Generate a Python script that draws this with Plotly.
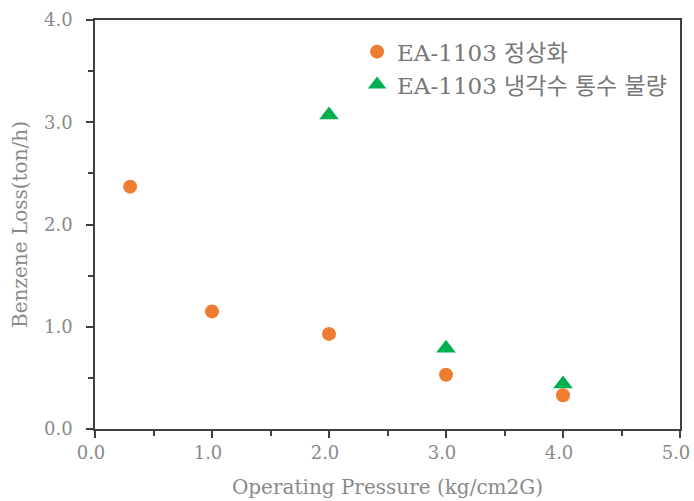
import plotly.graph_objects as go

x_normal = [0.3, 1.0, 2.0, 3.0, 4.0]
y_normal = [2.37, 1.15, 0.93, 0.53, 0.33]
x_bad = [2.0, 3.0, 4.0]
y_bad = [3.07, 0.79, 0.44]
name_normal = "EA-1103 정상화"
name_bad = "EA-1103 냉각수 통수 불량"
x_ticks = [0, 1, 2, 3, 4, 5]
y_ticks = [0, 1, 2, 3, 4]

FONT = "DejaVu Serif, Noto Sans CJK KR, serif"
GRAY = "#8a8a8a"

fig = go.Figure()
fig.add_trace(go.Scatter(x=x_normal, y=y_normal, mode="markers", name=name_normal,
                         marker=dict(symbol="circle", size=14, color="#ED7D31")))
fig.add_trace(go.Scatter(x=x_bad, y=y_bad, mode="markers", name=name_bad,
                         marker=dict(symbol="triangle-up", size=17, color="#00B050")))

axis_common = dict(showgrid=False, zeroline=False, showline=True, linecolor="#404040",
                   linewidth=1.5, mirror=True, ticks="outside", ticklen=7, tickwidth=1.5,
                   tickcolor="#404040", tickfont=dict(family=FONT, size=18, color=GRAY),
                   tickformat=".1f", automargin=False, ticklabeloverflow="allow")
fig.update_xaxes(range=[0, 5], tickvals=x_ticks, ticklabelshift=-4,
                 minor=dict(dtick=0.5, ticks="outside", ticklen=5, tickcolor="#404040", tickwidth=1.5),
                 title=dict(text="Operating Pressure (kg/cm2G)", font=dict(family=FONT, size=20, color=GRAY), standoff=18),
                 **axis_common)
fig.update_yaxes(range=[0, 4], tickvals=y_ticks, ticklabelstandoff=10,
                 minor=dict(dtick=0.5, ticks="outside", ticklen=5, tickcolor="#404040", tickwidth=1.5),
                 title=dict(text="Benzene Loss(ton/h)", font=dict(family=FONT, size=20, color=GRAY), standoff=11),
                 **axis_common)
fig.update_layout(width=694, height=501, margin=dict(l=95, r=14, t=20, b=72),
                  plot_bgcolor="white", paper_bgcolor="white",
                  legend=dict(x=0.448, y=0.975, xanchor="left", yanchor="top", bgcolor="rgba(0,0,0,0)",
                              font=dict(family=FONT, size=23, color="#777777")))
fig.write_html("out.html")
